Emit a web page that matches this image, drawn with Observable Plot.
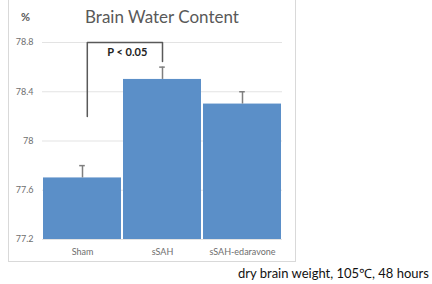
<!DOCTYPE html>
<html>
<head>
<meta charset="utf-8">
<script src="https://cdn.jsdelivr.net/npm/d3@7"></script>
<script src="https://cdn.jsdelivr.net/npm/@observablehq/plot@0.6"></script>
<style>
  html, body { margin: 0; padding: 0; background: #fff; }
  #wrap { position: relative; width: 432px; height: 284px; overflow: hidden; font-family: Lato, "Noto Sans", sans-serif; }
  #frame { position: absolute; left: 8px; top: -2px; width: 288px; height: 264px; border: 1px solid #d9d9d9; box-sizing: border-box; }
  #title { position: absolute; left: 42px; width: 240px; top: 6px; text-align: center; font-size: 17px; color: #595959; }
  #unit { position: absolute; left: 21px; top: 10px; font-size: 11px; font-weight: bold; color: #595959; }
  #caption { position: absolute; left: 238px; top: 264px; font-size: 13px; color: #111; white-space: nowrap; }
  #chart { position: absolute; left: 0; top: 0; }
</style>
</head>
<body>
<div id="wrap">
  <div id="frame"></div>
  <div id="chart"></div>
  <div id="title">Brain Water Content</div>
  <div id="unit">%</div>
  <div id="caption">dry brain weight, 105℃, 48 hours</div>
</div>
<script>
const categories = ["Sham", "sSAH", "sSAH-edaravone"];
const values = [77.7, 78.5, 78.3];
const errors = [0.1, 0.1, 0.1];
const yTicks = [77.2, 77.6, 78, 78.4, 78.8];
const pLabel = "P < 0.05";
// significance bracket: [x (in category units), y]
const bracketX = [0.56, 0.56, 1.5, 1.5];
const bracketY = [78.2, 78.8, 78.8, 78.645];
const pLabelPos = { x: 1.06, y: 78.72 };

const bars = categories.map((c, i) => ({ c, i, v: values[i], e: errors[i] }));
const bracket = bracketX.map((x, k) => ({ x, y: bracketY[k] }));

const chart = Plot.plot({
  width: 432,
  height: 284,
  marginLeft: 42,
  marginRight: 150,
  marginTop: 42,
  marginBottom: 45,
  style: { fontFamily: "Lato, 'Noto Sans', sans-serif", background: "transparent" },
  x: { domain: [0, 3], axis: null },
  y: { domain: [77.2, 78.8], axis: null },
  marks: [
    Plot.ruleY(yTicks, { stroke: "#e3e3e3", strokeWidth: 1 }),
    Plot.rectY(bars, {
      x1: d => d.i, x2: d => d.i + 1, y1: 77.2, y2: "v",
      fill: "#5b8fc8", insetLeft: 1, insetRight: 1
    }),
    Plot.ruleX(bars, { x: d => d.i + 0.5, y1: "v", y2: d => d.v + d.e, stroke: "#7f7f7f", strokeWidth: 1.5 }),
    Plot.ruleY(bars, { y: d => d.v + d.e, x1: d => d.i + 0.5 - 0.035, x2: d => d.i + 0.5 + 0.035, stroke: "#7f7f7f", strokeWidth: 1.5 }),
    Plot.line(bracket, { x: "x", y: "y", stroke: "#595959", strokeWidth: 1.5 }),
    Plot.text([pLabelPos], { x: "x", y: "y", text: () => pLabel, fontSize: 11, fontWeight: "bold", fill: "#222" }),
    // y tick labels
    Plot.text(yTicks, { x: 0, y: d => d, text: d => String(d), textAnchor: "end", dx: -9, fontSize: 9, fill: "#6e6e6e" }),
    // x tick labels
    Plot.text(bars, { x: d => d.i + 0.5, y: 77.2, text: "c", dy: 13, fontSize: 9, fill: "#6e6e6e" })
  ]
});
document.getElementById("chart").appendChild(chart);
</script>
</body>
</html>
